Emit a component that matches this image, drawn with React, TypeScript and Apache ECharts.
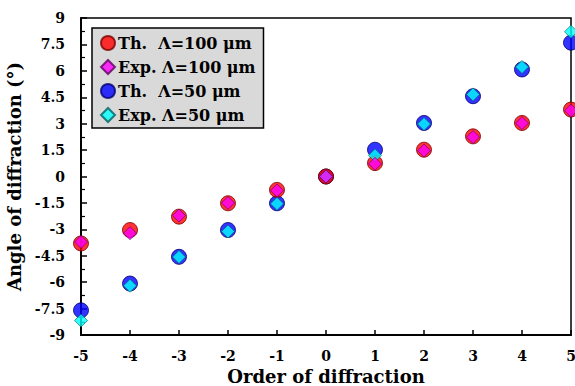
import React, { useEffect, useRef } from "react";
import * as echarts from "echarts";

const orders = [-5, -4, -3, -2, -1, 0, 1, 2, 3, 4, 5];
const th100 = [-3.8, -3.04, -2.28, -1.52, -0.76, 0, 0.76, 1.52, 2.28, 3.04, 3.8];
const exp100 = [-3.72, -3.22, -2.22, -1.5, -0.8, 0, 0.72, 1.47, 2.24, 3.03, 3.74];
const th50 = [-7.6, -6.08, -4.56, -3.04, -1.52, 0, 1.52, 3.04, 4.56, 6.08, 7.6];
const exp50 = [-8.18, -6.2, -4.57, -3.12, -1.55, 0, 1.2, 2.98, 4.66, 6.22, 8.22];
const seriesNames = ["Th.  Λ=100 μm", "Exp. Λ=100 μm", "Th.  Λ=50 μm", "Exp. Λ=50 μm"];

const FONT = "'DejaVu Serif', 'Liberation Serif', serif";

export default function App() {
  const ref = useRef<HTMLDivElement>(null);
  useEffect(() => {
    if (!ref.current) return;
    const chart = echarts.init(ref.current, undefined, { renderer: "svg" });
    const pts = (ys: number[]) => orders.map((x, i) => [x, ys[i]]);
    chart.setOption({
      animation: false,
      backgroundColor: "#fff",
      grid: {
        left: 81,
        right: 4,
        top: 18,
        bottom: 51,
        outerBoundsMode: "none",
        containLabel: false,
        show: true,
        borderColor: "#000",
        borderWidth: 1.5,
        backgroundColor: "transparent",
      },
      legend: {
        orient: "vertical",
        left: 92,
        top: 28,
        data: seriesNames,
        backgroundColor: "#d9d9d9",
        borderColor: "#000",
        borderWidth: 1.5,
        borderRadius: 0,
        padding: [7, 8, 5, 8],
        itemGap: 8,
        itemWidth: 14,
        itemHeight: 14,
        textStyle: { fontFamily: FONT, fontWeight: "bold", fontSize: 16, color: "#000", padding: [0, 0, 0, -2] },
      },
      xAxis: {
        type: "value",
        min: -5,
        max: 5,
        interval: 1,
        name: "Order of diffraction",
        nameLocation: "middle",
        nameGap: 28,
        nameTextStyle: { fontFamily: FONT, fontWeight: "bold", fontSize: 18, lineHeight: 18, color: "#000" },
        axisLine: { show: true, onZero: false, lineStyle: { color: "#000", width: 2 } },
        axisTick: { show: true, inside: true, length: 5, lineStyle: { color: "#000", width: 1.5 } },
        axisLabel: { fontFamily: FONT, fontWeight: "bold", fontSize: 14, color: "#000", margin: 14 },
        splitLine: { show: false },
      },
      yAxis: {
        type: "value",
        min: -9,
        max: 9,
        interval: 1.5,
        name: "Angle of diffraction (°)",
        nameLocation: "middle",
        nameGap: 47,
        nameTextStyle: { fontFamily: FONT, fontWeight: "bold", fontSize: 18, color: "#000" },
        axisLine: { show: true, onZero: false, lineStyle: { color: "#000", width: 2 } },
        axisTick: { show: true, inside: true, length: 6, lineStyle: { color: "#000", width: 1.5 } },
        minorTick: { show: true, splitNumber: 2, length: 4, lineStyle: { color: "#000", width: 1.2 } },
        axisLabel: { fontFamily: FONT, fontWeight: "bold", fontSize: 14, color: "#000", margin: 16 },
        splitLine: { show: false },
      },
      series: [
        {
          name: seriesNames[0],
          type: "scatter",
          data: pts(th100),
          symbol: "circle",
          symbolSize: 15,
          clip: false,
          z: 3,
          itemStyle: { color: "#ff0000", borderColor: "#7a0000", borderWidth: 1 },
        },
        {
          name: seriesNames[1],
          type: "scatter",
          data: pts(exp100),
          symbol: "diamond",
          symbolSize: 13,
          clip: false,
          z: 5,
          itemStyle: { color: "#ff00ff", borderColor: "#600060", borderWidth: 0.8 },
        },
        {
          name: seriesNames[2],
          type: "scatter",
          data: pts(th50),
          symbol: "circle",
          symbolSize: 15,
          clip: false,
          z: 2,
          itemStyle: { color: "#0000ff", borderColor: "#000070", borderWidth: 1 },
        },
        {
          name: seriesNames[3],
          type: "scatter",
          data: pts(exp50),
          symbol: "diamond",
          symbolSize: 13,
          clip: false,
          z: 4,
          itemStyle: { color: "#00ffff", borderColor: "#006060", borderWidth: 0.8 },
        },
      ],
    });
    return () => chart.dispose();
  }, []);
  return <div ref={ref} style={{ width: 575, height: 386, position: "absolute", left: 0, top: 0 }} />;
}
